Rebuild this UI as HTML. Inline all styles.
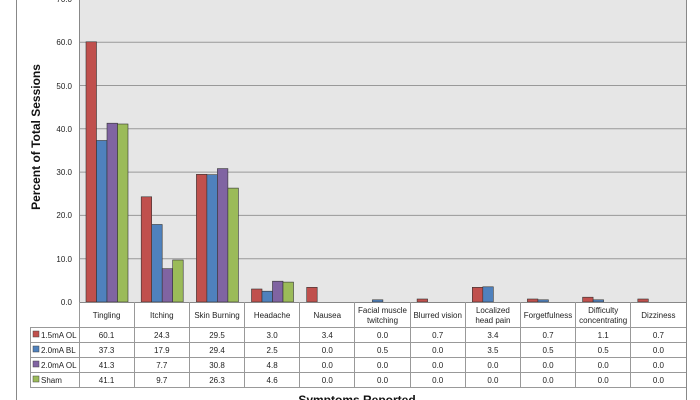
<!DOCTYPE html>
<html><head><meta charset="utf-8"><style>
html,body{margin:0;padding:0;background:#fff;}
svg{display:block;font-family:"Liberation Sans",sans-serif;}
</style></head><body>
<svg width="700" height="400" viewBox="0 0 700 400">
<rect x="0" y="0" width="700" height="400" fill="#fff"/>
<line x1="16.5" y1="0" x2="16.5" y2="400" stroke="#888"/>
<line x1="686.5" y1="0" x2="686.5" y2="400" stroke="#888"/>
<rect x="79" y="0" width="607" height="302" fill="#e6e6e6"/>
<g stroke="#999" stroke-width="1">
<line x1="79" y1="258.7" x2="686" y2="258.7"/>
<line x1="79" y1="215.4" x2="686" y2="215.4"/>
<line x1="79" y1="172.1" x2="686" y2="172.1"/>
<line x1="79" y1="128.8" x2="686" y2="128.8"/>
<line x1="79" y1="85.5" x2="686" y2="85.5"/>
<line x1="79" y1="42.2" x2="686" y2="42.2"/>
</g>
<line x1="79.5" y1="0" x2="79.5" y2="302" stroke="#888"/>
<g font-size="8" fill="#222" text-anchor="end">
<text x="72" y="305">0.0</text>
<text x="72" y="262">10.0</text>
<text x="72" y="218">20.0</text>
<text x="72" y="175">30.0</text>
<text x="72" y="132">40.0</text>
<text x="72" y="89">50.0</text>
<text x="72" y="45">60.0</text>
<text x="72" y="2">70.0</text>
</g>
<text transform="translate(40,137) rotate(-90)" font-size="12" font-weight="bold" text-anchor="middle" fill="#111">Percent of Total Sessions</text>
<g stroke="#333" stroke-width="0.6">
<g fill="#c0504d">
<rect x="86" y="41.8" width="10.5" height="260.2"/>
<rect x="141.2" y="196.8" width="10.5" height="105.2"/>
<rect x="196.4" y="174.3" width="10.5" height="127.7"/>
<rect x="251.5" y="289" width="10.5" height="13"/>
<rect x="306.7" y="287.3" width="10.5" height="14.7"/>
<rect x="417.1" y="299" width="10.5" height="3"/>
<rect x="472.3" y="287.3" width="10.5" height="14.7"/>
<rect x="527.4" y="299" width="10.5" height="3"/>
<rect x="582.6" y="297.2" width="10.5" height="4.8"/>
<rect x="637.8" y="299" width="10.5" height="3"/>
</g>
<g fill="#4f81bd">
<rect x="96.5" y="140.5" width="10.5" height="161.5"/>
<rect x="151.7" y="224.5" width="10.5" height="77.5"/>
<rect x="206.9" y="174.7" width="10.5" height="127.3"/>
<rect x="262" y="291.2" width="10.5" height="10.8"/>
<rect x="372.4" y="299.8" width="10.5" height="2.2"/>
<rect x="482.8" y="286.8" width="10.5" height="15.2"/>
<rect x="537.9" y="299.8" width="10.5" height="2.2"/>
<rect x="593.1" y="299.8" width="10.5" height="2.2"/>
</g>
<g fill="#8064a2">
<rect x="107" y="123.2" width="10.5" height="178.8"/>
<rect x="162.2" y="268.7" width="10.5" height="33.3"/>
<rect x="217.4" y="168.6" width="10.5" height="133.4"/>
<rect x="272.5" y="281.2" width="10.5" height="20.8"/>
</g>
<g fill="#9bbb59">
<rect x="117.5" y="124" width="10.5" height="178"/>
<rect x="172.7" y="260" width="10.5" height="42"/>
<rect x="227.9" y="188.1" width="10.5" height="113.9"/>
<rect x="283" y="282.1" width="10.5" height="19.9"/>
</g>
</g>
<line x1="79" y1="302.5" x2="686" y2="302.5" stroke="#888"/>
<g stroke="#999" stroke-width="1">
<line x1="30" y1="327.5" x2="686" y2="327.5"/>
<line x1="30" y1="342.5" x2="686" y2="342.5"/>
<line x1="30" y1="357.5" x2="686" y2="357.5"/>
<line x1="30" y1="372.5" x2="686" y2="372.5"/>
<line x1="30" y1="387.5" x2="686" y2="387.5"/>
<line x1="30.5" y1="327" x2="30.5" y2="388"/>
<line x1="79.5" y1="302" x2="79.5" y2="388"/>
<line x1="134.5" y1="302" x2="134.5" y2="388"/>
<line x1="189.5" y1="302" x2="189.5" y2="388"/>
<line x1="244.5" y1="302" x2="244.5" y2="388"/>
<line x1="299.5" y1="302" x2="299.5" y2="388"/>
<line x1="354.5" y1="302" x2="354.5" y2="388"/>
<line x1="410.5" y1="302" x2="410.5" y2="388"/>
<line x1="465.5" y1="302" x2="465.5" y2="388"/>
<line x1="520.5" y1="302" x2="520.5" y2="388"/>
<line x1="575.5" y1="302" x2="575.5" y2="388"/>
<line x1="630.5" y1="302" x2="630.5" y2="388"/>
</g>
<g font-size="8" fill="#222" text-anchor="middle">
<text x="106.6" y="318">Tingling</text>
<text x="161.8" y="318">Itching</text>
<text x="217" y="318">Skin Burning</text>
<text x="272.1" y="318">Headache</text>
<text x="327.3" y="318">Nausea</text>
<text x="382.5" y="313">Facial muscle</text><text x="382.5" y="323">twitching</text>
<text x="437.7" y="318">Blurred vision</text>
<text x="492.9" y="313">Localized</text><text x="492.9" y="323">head pain</text>
<text x="548" y="318">Forgetfulness</text>
<text x="603.2" y="313">Difficulty</text><text x="603.2" y="323">concentrating</text>
<text x="658.4" y="318">Dizziness</text>
</g>
<g font-size="8" fill="#222">
<rect x="33" y="331" width="6" height="6" fill="#c0504d" stroke="#444" stroke-width="0.5"/><text x="41" y="338">1.5mA OL</text>
<rect x="33" y="346" width="6" height="6" fill="#4f81bd" stroke="#444" stroke-width="0.5"/><text x="41" y="353">2.0mA BL</text>
<rect x="33" y="361" width="6" height="6" fill="#8064a2" stroke="#444" stroke-width="0.5"/><text x="41" y="368">2.0mA OL</text>
<rect x="33" y="376" width="6" height="6" fill="#9bbb59" stroke="#444" stroke-width="0.5"/><text x="41" y="383">Sham</text>
</g>
<g font-size="8" fill="#222" text-anchor="middle">
<text x="106.6" y="338">60.1</text><text x="161.8" y="338">24.3</text><text x="217" y="338">29.5</text><text x="272.1" y="338">3.0</text><text x="327.3" y="338">3.4</text><text x="382.5" y="338">0.0</text><text x="437.7" y="338">0.7</text><text x="492.9" y="338">3.4</text><text x="548" y="338">0.7</text><text x="603.2" y="338">1.1</text><text x="658.4" y="338">0.7</text>
<text x="106.6" y="353">37.3</text><text x="161.8" y="353">17.9</text><text x="217" y="353">29.4</text><text x="272.1" y="353">2.5</text><text x="327.3" y="353">0.0</text><text x="382.5" y="353">0.5</text><text x="437.7" y="353">0.0</text><text x="492.9" y="353">3.5</text><text x="548" y="353">0.5</text><text x="603.2" y="353">0.5</text><text x="658.4" y="353">0.0</text>
<text x="106.6" y="368">41.3</text><text x="161.8" y="368">7.7</text><text x="217" y="368">30.8</text><text x="272.1" y="368">4.8</text><text x="327.3" y="368">0.0</text><text x="382.5" y="368">0.0</text><text x="437.7" y="368">0.0</text><text x="492.9" y="368">0.0</text><text x="548" y="368">0.0</text><text x="603.2" y="368">0.0</text><text x="658.4" y="368">0.0</text>
<text x="106.6" y="383">41.1</text><text x="161.8" y="383">9.7</text><text x="217" y="383">26.3</text><text x="272.1" y="383">4.6</text><text x="327.3" y="383">0.0</text><text x="382.5" y="383">0.0</text><text x="437.7" y="383">0.0</text><text x="492.9" y="383">0.0</text><text x="548" y="383">0.0</text><text x="603.2" y="383">0.0</text><text x="658.4" y="383">0.0</text>
</g>
<text x="357" y="404" font-size="12" font-weight="bold" text-anchor="middle" fill="#111">Symptoms Reported</text>
</svg>
</body></html>
